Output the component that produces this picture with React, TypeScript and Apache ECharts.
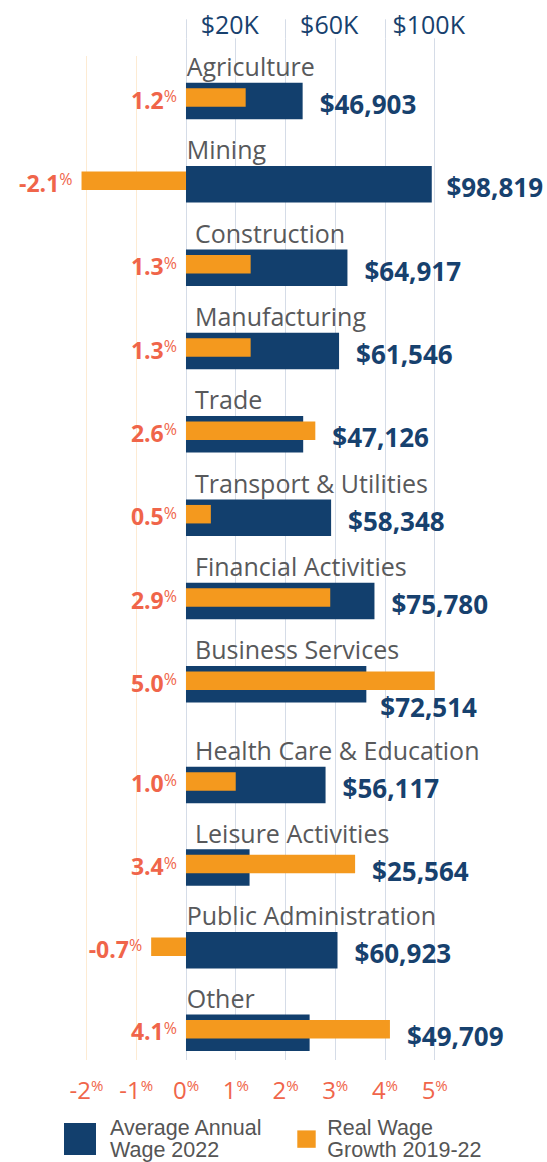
import React, { useEffect, useRef } from 'react';
import * as echarts from 'echarts';

// ---------- data ----------
const categories = [
  'Agriculture',
  'Mining',
  'Construction',
  'Manufacturing',
  'Trade',
  'Transport & Utilities',
  'Financial Activities',
  'Business Services',
  'Health Care & Education',
  'Leisure Activities',
  'Public Administration',
  'Other',
];
const wages = [46903, 98819, 64917, 61546, 47126, 58348, 75780, 72514, 56117, 25564, 60923, 49709];
const growth = [1.2, -2.1, 1.3, 1.3, 2.6, 0.5, 2.9, 5.0, 1.0, 3.4, -0.7, 4.1];
const wageTickLabels = [20000, 60000, 100000];
const wageName = 'Average Annual\nWage 2022';
const growthName = 'Real Wage\nGrowth 2019-22';

// ---------- layout & style ----------
const W = 547;
const H = 1162;
const NAVY = '#123F6D';
const NAVY_TEXT = '#17416E';
const ORANGE = '#F4991E';
const CORAL = '#F0654A';
const GRAY = '#58595B';
const LINE_BLUE = '#D5DCE7';
const LINE_PEACH = '#FDEBD3';
const CLEAR = 'rgba(0,0,0,0)';
const FONT = '"Open Sans", sans-serif';

const plotLeft = 86.5;
const plotRight = 112.3;
const pctMin = -2;
const pctMax = 5;
const wageMin = -40000;
const wageMax = 100000;
const wageStep = 20000;
const pxPerPct = (W - plotLeft - plotRight) / (pctMax - pctMin);
const zeroX = plotLeft - pctMin * pxPerPct;
const labelLimit = 543;

const groupBreak = 8;
const groupLayout = [
  { top: 62.1, band: 83.33 },
  { top: 746.4, band: 82.6 },
];
const flushLabels = new Set(['Agriculture', 'Mining', 'Public Administration', 'Other']);

const fmtWage = (v: number) => '$' + v.toLocaleString('en-US');

function textWidth(s: string, font: string) {
  const ctx = document.createElement('canvas').getContext('2d');
  if (!ctx) return s.length * 14;
  ctx.font = font;
  return ctx.measureText(s).width;
}

function pctAxis(gridIndex: number, colors: string[] | null, extra: any = {}) {
  return {
    type: 'value',
    gridIndex,
    min: pctMin,
    max: pctMax,
    interval: 1,
    axisLine: { show: false },
    axisTick: { show: false },
    axisLabel: { show: false },
    splitLine: colors ? { show: true, lineStyle: { color: colors, width: 1 } } : { show: false },
    ...extra,
  };
}

function wageAxis(gridIndex: number, extra: any = {}) {
  return {
    type: 'value',
    gridIndex,
    min: wageMin,
    max: wageMax,
    interval: wageStep,
    axisLine: { show: false },
    axisTick: { show: false },
    axisLabel: { show: false },
    splitLine: { show: false },
    ...extra,
  };
}

function buildOption() {
  const labelFont = `bold 26px "Open Sans"`;
  const grids: any[] = [
    { left: plotLeft, right: plotRight, top: 19.3, height: 19 },
    { left: plotLeft, right: plotRight, top: 38.3, height: 17.7 },
    { left: plotLeft, right: plotRight, top: 56, height: 1004 },
  ];
  const xAxes: any[] = [
    pctAxis(0, [CLEAR, CLEAR, LINE_BLUE, CLEAR, LINE_BLUE, CLEAR, LINE_BLUE, CLEAR]),
    pctAxis(1, [CLEAR, CLEAR, LINE_BLUE, LINE_BLUE, LINE_BLUE, LINE_BLUE, LINE_BLUE, LINE_BLUE]),
    wageAxis(1, {
      position: 'top',
      axisLabel: {
        show: true,
        margin: 1.5,
        fontFamily: FONT,
        fontSize: 25,
        color: NAVY_TEXT,
        padding: [0, 12, 0, 0],
        formatter: (v: number) => (wageTickLabels.includes(v) ? `$${v / 1000}K` : ''),
      },
    }),
    pctAxis(2, [LINE_PEACH, LINE_PEACH, LINE_BLUE, LINE_BLUE, LINE_BLUE, LINE_BLUE, LINE_BLUE, LINE_BLUE], {
      position: 'bottom',
      axisLabel: {
        show: true,
        margin: 17,
        showMinLabel: true,
        showMaxLabel: true,
        formatter: (v: number) => `{n|${v}}{p|%}`,
        rich: {
          n: { fontFamily: FONT, fontSize: 24, color: CORAL },
          p: { fontFamily: FONT, fontSize: 15, color: CORAL, verticalAlign: 'top' },
        },
      },
    }),
  ];
  const yAxes: any[] = [
    { type: 'value', gridIndex: 0, min: 0, max: 1, show: false },
    { type: 'value', gridIndex: 1, min: 0, max: 1, show: false },
    { type: 'value', gridIndex: 2, min: 0, max: 1, show: false },
  ];
  const series: any[] = [];

  const groups = [
    categories.slice(0, groupBreak).map((_, i) => i),
    categories.slice(groupBreak).map((_, i) => i + groupBreak),
  ];

  groups.forEach((idx, g) => {
    const L = groupLayout[g];
    const gridIndex = grids.length;
    grids.push({ left: plotLeft, right: plotRight, top: L.top, height: L.band * idx.length });
    const pctIndex = xAxes.length;
    xAxes.push(pctAxis(gridIndex, null, { show: false }));
    const wageIndex = xAxes.length;
    xAxes.push(wageAxis(gridIndex, { show: false }));
    const yIndex = yAxes.length;
    yAxes.push({
      type: 'category',
      gridIndex,
      inverse: true,
      data: idx.map((i) => categories[i]),
      axisLine: { show: false },
      axisTick: { show: false },
      splitLine: { show: false },
      axisLabel: {
        inside: true,
        interval: 0,
        margin: 100.2,
        padding: [0, 0, 75.3, 0],
        formatter: (v: string) => (flushLabels.has(v) ? `{f|${v}}` : `{i|${v}}`),
        rich: {
          f: { fontFamily: FONT, fontSize: 25, color: GRAY },
          i: { fontFamily: FONT, fontSize: 25, color: GRAY, padding: [0, 0, 0, 8.3] },
        },
      },
    });

    series.push({
      type: 'bar',
      name: growthName,
      xAxisIndex: pctIndex,
      yAxisIndex: yIndex,
      barWidth: 18.5,
      barGap: '-130%',
      clip: false,
      z: 3,
      itemStyle: { color: ORANGE },
      label: {
        show: true,
        position: 'left',
        distance: 9,
        offset: [0, 2],
        formatter: (p: any) => `{n|${Number(p.value).toFixed(1)}}{p|%}`,
        rich: {
          n: { fontFamily: FONT, fontSize: 23, fontWeight: 'bold', color: CORAL },
          p: { fontFamily: FONT, fontSize: 16, color: CORAL, verticalAlign: 'top' },
        },
      },
      data: idx.map((i) => growth[i]),
    });

    series.push({
      type: 'bar',
      name: wageName,
      xAxisIndex: wageIndex,
      yAxisIndex: yIndex,
      barWidth: 36.5,
      barGap: '-130%',
      clip: false,
      z: 2,
      itemStyle: { color: NAVY },
      label: {
        show: true,
        position: 'right',
        distance: 17,
        fontFamily: FONT,
        fontSize: 26,
        fontWeight: 'bold',
        color: NAVY_TEXT,
        formatter: (p: any) => fmtWage(p.value),
      },
      data: idx.map((i) => {
        const wagePx = (wages[i] / wageStep) * pxPerPct;
        const growthPx = Math.max(0, growth[i]) * pxPerPct;
        const w = textWidth(fmtWage(wages[i]), labelFont);
        const x0 = zeroX + Math.max(wagePx, growthPx) + 17;
        let off = [Math.max(0, growthPx - wagePx), 3];
        if (x0 + w > labelLimit) {
          off = growthPx > wagePx ? [-3, 23] : [labelLimit - w - x0, 3];
        }
        return { value: wages[i], label: { offset: off } };
      }),
    });
  });

  const legendText = (padLeft: number) => ({
    fontFamily: '"Liberation Sans", Arial, sans-serif',
    fontSize: 21.5,
    color: '#555555',
    lineHeight: 22.6,
    padding: [0, 0, 0, padLeft],
  });

  return {
    animation: false,
    grid: grids,
    xAxis: xAxes,
    yAxis: yAxes,
    series,
    legend: [
      {
        data: [wageName],
        left: 64,
        top: 1116.5,
        padding: 0,
        itemWidth: 32,
        itemHeight: 32,
        icon: 'rect',
        selectedMode: false,
        textStyle: legendText(9),
      },
      {
        data: [growthName],
        left: 297.3,
        top: 1116.5,
        padding: 0,
        itemWidth: 18.4,
        itemHeight: 17.4,
        icon: 'rect',
        selectedMode: false,
        textStyle: legendText(6.6),
      },
    ],
  };
}

export default function App() {
  const ref = useRef<HTMLDivElement>(null);
  useEffect(() => {
    if (!ref.current) return;
    const chart = echarts.init(ref.current, null, { renderer: 'svg' });
    chart.setOption(buildOption() as any);
    return () => chart.dispose();
  }, []);
  return (
    <div
      ref={ref}
      style={{ position: 'fixed', left: 0, top: 0, width: W, height: H, background: '#ffffff' }}
    />
  );
}
